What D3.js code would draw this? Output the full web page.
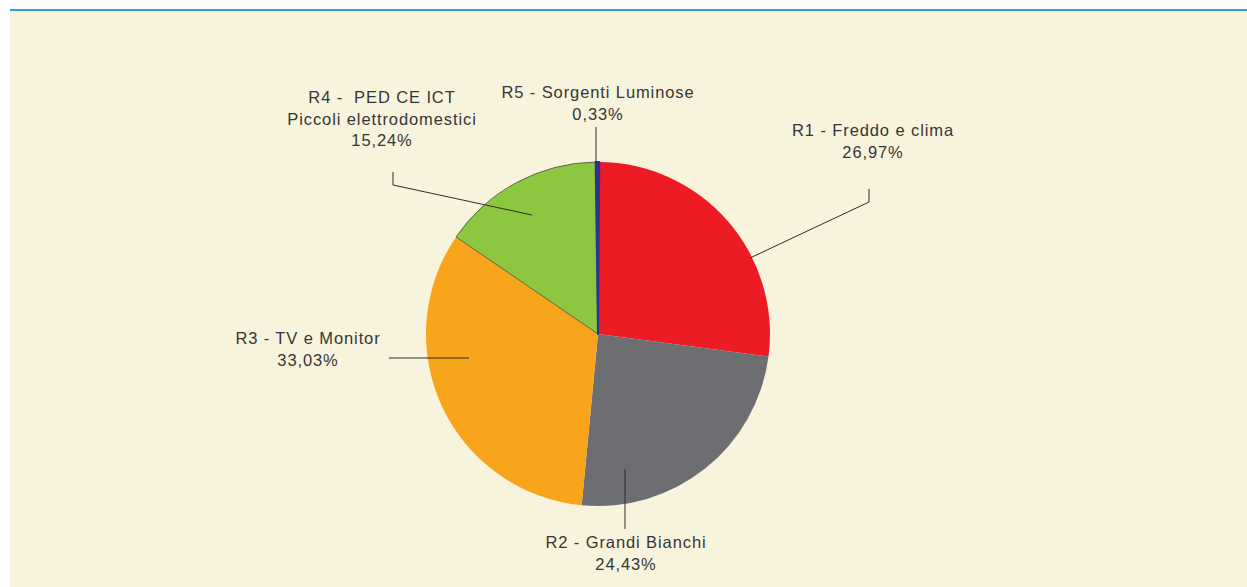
<!DOCTYPE html>
<html>
<head>
<meta charset="utf-8">
<script src="https://cdn.jsdelivr.net/npm/d3@7"></script>
<style>
  body { margin: 0; background: #fff; }
  text { font-family: "Liberation Sans", Arial, sans-serif; fill: #363636; }
</style>
</head>
<body>
<svg width="1247" height="587"></svg>
<script>
var svg = d3.select("svg"),
  width = +svg.attr("width"),
  height = +svg.attr("height");

// dati
var categorie = ["R1 - Freddo e clima", "R2 - Grandi Bianchi", "R3 - TV e Monitor",
  "R4 -  PED CE ICT|Piccoli elettrodomestici", "R5 - Sorgenti Luminose"];
var percentuali = [26.97, 24.43, 33.03, 15.24, 0.33];
var colori = ["#ed1c24", "#6d6e71", "#f8a51c", "#8dc63f", "#2e3192"];

// posizione etichette e linee guida (annotazioni)
var etichette = [
  { x: 873, y: 136, linea: [[750, 258], [869, 202], [869, 189]] },
  { x: 626, y: 548, linea: [[625, 469], [625, 529]] },
  { x: 308, y: 344, linea: [[469, 358], [389, 358]] },
  { x: 382, y: 103, linea: [[532, 215], [393, 185], [393, 172]] },
  { x: 598, y: 98, linea: [[596, 162], [596, 127]] }
];

var cx = 598, cy = 334, r = 172;

// sfondo
svg.append("rect")
  .attr("x", 10).attr("y", 10)
  .attr("width", width - 10).attr("height", height - 10)
  .attr("fill", "#f8f3dc");
svg.append("line")
  .attr("x1", 10).attr("x2", width)
  .attr("y1", 10).attr("y2", 10)
  .attr("stroke", "#2a9fd6")
  .attr("stroke-width", 2);

var dati = categorie.map(function(c, i) {
  return { nome: c, valore: percentuali[i], colore: colori[i] };
});

var offset = percentuali[4] / 100 * Math.PI * 0.7;
var pie = d3.pie()
  .value(function(d) { return d.valore; })
  .sort(null)
  .startAngle(offset)
  .endAngle(2 * Math.PI + offset);

var arc = d3.arc().innerRadius(0).outerRadius(r);

var g = svg.append("g")
  .attr("transform", "translate(" + cx + "," + cy + ")");

g.selectAll("path")
  .data(pie(dati))
  .enter().append("path")
  .attr("d", arc)
  .attr("fill", function(d) { return d.data.colore; })
  .attr("stroke", function(d, i) {
    if (i == 3) return "#3a3a3a";
    if (i == 4) return d.data.colore;
    return "none";
  })
  .attr("stroke-linejoin", "round")
  .attr("stroke-width", function(d, i) { return i == 4 ? 2 : 0.7; });

// linee guida
var line = d3.line();
svg.append("g")
  .selectAll("path")
  .data(etichette)
  .enter().append("path")
  .attr("d", function(d) { return line(d.linea); })
  .attr("fill", "none")
  .attr("stroke", "#2b2b2b")
  .attr("stroke-width", 1);

// etichette
var fmt = function(v) { return v.toFixed(2).replace(".", ",") + "%"; };

var lab = svg.append("g")
  .selectAll("text")
  .data(dati)
  .enter().append("text")
  .attr("text-anchor", "middle")
  .attr("font-size", 16.5)
  .attr("letter-spacing", 0.9)
  .attr("x", function(d, i) { return etichette[i].x; })
  .attr("y", function(d, i) { return etichette[i].y; });

lab.each(function(d, i) {
  var righe = d.nome.split("|").concat([fmt(d.valore)]);
  d3.select(this).selectAll("tspan")
    .data(righe)
    .enter().append("tspan")
    .attr("x", etichette[i].x)
    .attr("dy", function(t, j) { return j == 0 ? 0 : 21.5; })
    .attr("xml:space", "preserve")
    .style("white-space", "pre")
    .text(function(t) { return t; });
});
</script>
</body>
</html>
